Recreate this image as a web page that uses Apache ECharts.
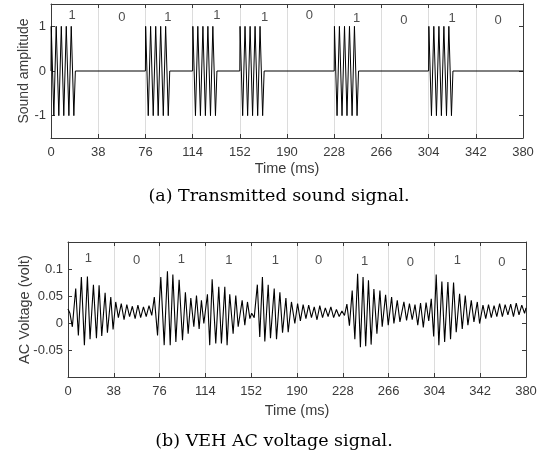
<!DOCTYPE html>
<html>
<head>
<meta charset="utf-8">
<script src="https://cdn.jsdelivr.net/npm/echarts@6/dist/echarts.min.js"></script>
<style>
  html, body { margin: 0; padding: 0; background: #ffffff; }
  #chart { width: 548px; height: 461px; }
</style>
</head>
<body>
<div id="chart"></div>
<script>
// Transmitted sound bursts: time (ms) and amplitude at each turning point
const sentTimes = [
  0, 0.2, 2.3, 4.2, 6.3, 8.3, 10.3, 12.3, 14.4, 16.3, 18.4, 19.6,
  76, 76.2, 78.3, 80.2, 82.3, 84.3, 86.3, 88.3, 90.4, 92.3, 94.4, 95.6,
  114, 114.2, 116.3, 118.2, 120.3, 122.3, 124.3, 126.3, 128.4, 130.3, 132.4, 133.6,
  152, 152.2, 154.3, 156.2, 158.3, 160.3, 162.3, 164.3, 166.4, 168.3, 170.4, 171.6,
  228, 228.2, 230.3, 232.2, 234.3, 236.3, 238.3, 240.3, 242.4, 244.3, 246.4, 247.6,
  304, 304.2, 306.3, 308.2, 310.3, 312.3, 314.3, 316.3, 318.4, 320.3, 322.4, 323.6,
  380
];
const sentAmps = [
  0, 1, -1, 1, -1, 1, -1, 1, -1, 1, -1, 0,
  0, 1, -1, 1, -1, 1, -1, 1, -1, 1, -1, 0,
  0, 1, -1, 1, -1, 1, -1, 1, -1, 1, -1, 0,
  0, 1, -1, 1, -1, 1, -1, 1, -1, 1, -1, 0,
  0, 1, -1, 1, -1, 1, -1, 1, -1, 1, -1, 0,
  0, 1, -1, 1, -1, 1, -1, 1, -1, 1, -1, 0,
  0
];

// Harvester AC output: time (ms) and voltage (V) at each peak / trough
const vehTimes = [
  0, 1.6, 3.6, 6.4, 8.6, 11.1, 13.6, 16.1, 18.3, 21.1, 23.6, 25.8, 28.0, 30.8, 32.7, 35.5, 37.4, 39.6,
  41.8, 44.2, 46.5, 48.8, 51.1, 53.4, 55.7, 58.0, 60.3, 62.6, 64.9, 67.2, 69.5, 71.6,
  74.3, 77.0, 79.8, 82.5, 84.8, 87.0, 89.5, 92.2, 95.0, 97.4, 99.7, 101.9, 104.4, 106.6, 108.8, 110.7, 112.7,
  115.7, 117.6, 119.6, 122.6, 125.1, 127.3, 130.1, 132.0, 134.2, 137.0, 139.2, 141.2, 144.5, 146.7, 148.9, 150.9,
  152.4, 154.5, 157.1, 159.1, 161.3, 163.3, 166.1, 168.0, 171.1, 173.0, 175.8, 178.0, 180.8, 182.7, 185.4, 188.2,
  190.5, 192.8, 195.1, 197.4, 199.7, 202.0, 204.3, 206.6, 208.9, 211.2, 213.5, 215.8, 218.1, 220.4, 222.7, 225.0, 227.3, 229.4,
  231.4, 233.5, 235.8, 238.0, 240.3, 242.6, 244.8, 247.0, 249.3, 251.5, 253.8, 256.3, 258.8, 260.7, 263.5, 265.7,
  268.5, 270.4, 273.2, 275.4, 278.7, 280.9, 283.3, 285.6, 287.9, 290.2, 292.5, 294.8, 297.1, 299.3, 301.4,
  303.4, 305.5, 307.7, 310.2, 312.5, 315.2, 317.4, 319.9, 322.1, 324.9, 327.1, 329.6, 331.8, 334.6, 336.8, 339.6, 341.5,
  344.3, 346.6, 348.9, 351.2, 353.5, 355.8, 358.1, 360.4, 362.7, 365.0, 367.3, 369.6, 371.9, 374.2, 376.5, 378.8, 380.0
];
const vehVolts = [
  0.026, 0.018, -0.007, 0.064, -0.023, 0.085, -0.041, 0.086, -0.030, 0.071, -0.028, 0.070, -0.024, 0.056, -0.018, 0.048, -0.012, 0.039,
  0.010, 0.036, 0.006, 0.034, 0.012, 0.031, 0.008, 0.033, 0.010, 0.030, 0.012, 0.032, 0.014, 0.048,
  -0.023, 0.085, -0.041, 0.096, -0.041, 0.090, -0.035, 0.080, -0.032, 0.057, -0.020, 0.046, -0.007, 0.051, -0.011, 0.042, -0.001,
  0.053, -0.041, 0.081, -0.038, 0.067, -0.038, 0.067, -0.041, 0.053, -0.020, 0.051, -0.007, 0.042, -0.004, 0.039, 0.008,
  0.018, 0.010, 0.071, -0.026, 0.085, -0.034, 0.071, -0.028, 0.064, -0.030, 0.057, -0.018, 0.046, -0.017, 0.039, -0.001,
  0.036, 0.004, 0.034, 0.008, 0.033, 0.010, 0.030, 0.006, 0.032, 0.010, 0.028, 0.012, 0.030, 0.010, 0.025, 0.012, 0.022, 0.014,
  0.035, -0.005, 0.060, -0.030, 0.091, -0.045, 0.085, -0.043, 0.079, -0.040, 0.063, -0.020, 0.060, -0.007, 0.052, -0.004,
  0.048, -0.001, 0.042, 0.002, 0.039, 0.005, 0.036, 0.006, 0.034, -0.004, 0.037, -0.008, 0.038, 0.004, 0.045,
  -0.025, 0.090, -0.041, 0.077, -0.035, 0.076, -0.030, 0.075, -0.017, 0.054, -0.011, 0.051, -0.004, 0.042, 0.002, 0.039, -0.001,
  0.033, 0.008, 0.034, 0.010, 0.032, 0.012, 0.036, 0.012, 0.034, 0.015, 0.035, 0.012, 0.037, 0.015, 0.033, 0.018, 0.028
];

// Bit sequence written above each 38 ms slot
const bitText = ['1', '0', '1', '1', '1', '0', '1', '0', '1', '0'];
const bitTimes = [17, 57, 94, 133.5, 172, 208, 246, 284, 323, 360];
const bitLevelSent = [1.25, 1.21, 1.2, 1.24, 1.2, 1.24, 1.18, 1.13, 1.18, 1.13];
const bitLevelVeh = [0.12, 0.116, 0.118, 0.115, 0.116, 0.116, 0.114, 0.113, 0.116, 0.113];

// Axis ticks
const ampTicks = [-1, 0, 1];

const pairs = (xs, ys) => xs.map((x, i) => [x, ys[i]]);

const ink = '#3a3a3a';
const tickFont = { fontFamily: 'Liberation Sans', fontSize: 13, color: ink };

function timeAxis(gridIndex, nameGap) {
  return {
    type: 'value', gridIndex, min: 0, max: 380, interval: 38,
    axisLine: { show: true, onZero: false, lineStyle: { color: ink, width: 1 } },
    axisTick: { show: true, inside: true, length: 4, lineStyle: { color: ink } },
    axisLabel: Object.assign({ show: true, margin: 8 }, tickFont),
    splitLine: { show: true, lineStyle: { color: '#dcdcdc', width: 1 } },
    name: 'Time (ms)',
    nameLocation: 'middle', nameGap, nameMoveOverlap: false,
    nameTextStyle: { fontFamily: 'Liberation Sans', fontSize: 14.5, color: ink }
  };
}
function mirrorX(gridIndex) {
  return {
    type: 'value', gridIndex, position: 'top', min: 0, max: 380, interval: 38,
    axisLine: { show: true, onZero: false, lineStyle: { color: ink, width: 1 } },
    axisTick: { show: true, inside: true, length: 4, lineStyle: { color: ink } },
    axisLabel: { show: false }, splitLine: { show: false }
  };
}

const option = {
  animation: false,
  backgroundColor: '#ffffff',
  grid: [
    { left: 51, right: 25, top: 4, height: 134 },
    { left: 68, right: 22, top: 242, height: 135 }
  ],
  xAxis: [
    timeAxis(0, 23),
    mirrorX(0),
    timeAxis(1, 26),
    mirrorX(1)
  ],
  yAxis: [
    {
      type: 'value', gridIndex: 0, min: -1.5, max: 1.5,
      axisLine: { show: true, onZero: false, lineStyle: { color: ink } },
      axisTick: { show: true, inside: true, length: 4, customValues: ampTicks, lineStyle: { color: ink } },
      axisLabel: Object.assign({ margin: 5, customValues: ampTicks }, tickFont),
      splitLine: { show: false },
      name: 'Sound amplitude', nameLocation: 'middle', nameGap: 20, nameMoveOverlap: false,
      nameTextStyle: { fontFamily: 'Liberation Sans', fontSize: 14, color: ink }
    },
    {
      type: 'value', gridIndex: 0, position: 'right', min: -1.5, max: 1.5,
      axisLine: { show: true, onZero: false, lineStyle: { color: ink } },
      axisTick: { show: true, inside: true, length: 4, customValues: ampTicks, lineStyle: { color: ink } },
      axisLabel: { show: false }, splitLine: { show: false }
    },
    {
      type: 'value', gridIndex: 1, min: -0.1, max: 0.15, interval: 0.05,
      axisLine: { show: true, onZero: false, lineStyle: { color: ink } },
      axisTick: { show: true, inside: true, length: 4, lineStyle: { color: ink } },
      axisLabel: Object.assign({ margin: 5, showMinLabel: false, showMaxLabel: false }, tickFont),
      splitLine: { show: false },
      name: 'AC Voltage (volt)', nameLocation: 'middle', nameGap: 36, nameMoveOverlap: false,
      nameTextStyle: { fontFamily: 'Liberation Sans', fontSize: 14.5, color: ink }
    },
    {
      type: 'value', gridIndex: 1, position: 'right', min: -0.1, max: 0.15, interval: 0.05,
      axisLine: { show: true, onZero: false, lineStyle: { color: ink } },
      axisTick: { show: true, inside: true, length: 4, lineStyle: { color: ink } },
      axisLabel: { show: false }, splitLine: { show: false }
    }
  ],
  series: [
    {
      type: 'line', xAxisIndex: 0, yAxisIndex: 0, data: pairs(sentTimes, sentAmps),
      symbol: 'none', lineStyle: { color: '#000000', width: 1 }
    },
    {
      type: 'scatter', xAxisIndex: 0, yAxisIndex: 0, data: pairs(bitTimes, bitLevelSent),
      symbolSize: 0, silent: true,
      label: { show: true, position: 'inside', formatter: p => bitText[p.dataIndex],
               fontFamily: 'Liberation Sans', fontSize: 13, color: '#222' }
    },
    {
      type: 'line', xAxisIndex: 2, yAxisIndex: 2, data: pairs(vehTimes, vehVolts),
      symbol: 'none', lineStyle: { color: '#000000', width: 1.1 }
    },
    {
      type: 'scatter', xAxisIndex: 2, yAxisIndex: 2, data: pairs(bitTimes, bitLevelVeh),
      symbolSize: 0, silent: true,
      label: { show: true, position: 'inside', formatter: p => bitText[p.dataIndex],
               fontFamily: 'Liberation Sans', fontSize: 13, color: '#222' }
    }
  ],
  graphic: [
    { type: 'text', x: 279, y: 196,
      style: { text: '(a) Transmitted sound signal.', font: '17.5px "DejaVu Serif"', fill: '#000',
               align: 'center', verticalAlign: 'middle' } },
    { type: 'text', x: 274, y: 441,
      style: { text: '(b) VEH AC voltage signal.', font: '17.5px "DejaVu Serif"', fill: '#000',
               align: 'center', verticalAlign: 'middle' } }
  ]
};

const chart = echarts.init(document.getElementById('chart'), null, { renderer: 'canvas' });
chart.setOption(option);
</script>
</body>
</html>
